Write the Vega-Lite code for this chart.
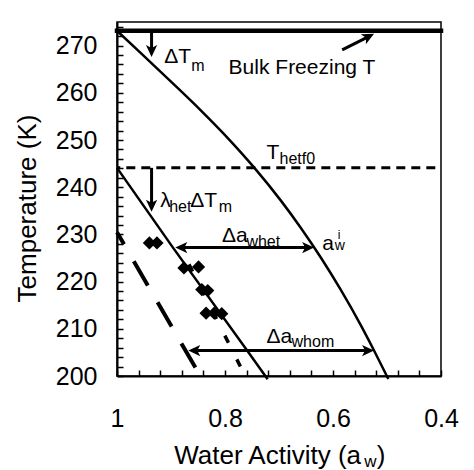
{
  "$schema": "https://vega.github.io/schema/vega-lite/v6.json",
  "width": 324,
  "height": 354,
  "autosize": {"type": "none"},
  "padding": {"left": 117, "top": 22, "right": 33, "bottom": 94},
  "background": "white",
  "config": {
    "view": {"stroke": "black", "strokeWidth": 1.5},
    "font": "Liberation Sans",
    "axis": {"grid": false}
  },
  "datasets": {
    "bulk": [{"aw": 0.4, "T": 273.15}, {"aw": 1.0, "T": 273.15}],
    "melt": [
      {"aw": 1.0, "T": 273.15}, {"aw": 0.9573, "T": 268.57}, {"aw": 0.9015, "T": 262.52},
      {"aw": 0.8458, "T": 256.38}, {"aw": 0.7901, "T": 249.82}, {"aw": 0.7455, "T": 244.09},
      {"aw": 0.6972, "T": 237.26}, {"aw": 0.6601, "T": 231.47}, {"aw": 0.6229, "T": 225.16},
      {"aw": 0.5858, "T": 218.29}, {"aw": 0.5486, "T": 210.79}, {"aw": 0.5245, "T": 205.52},
      {"aw": 0.5003, "T": 200.01}, {"aw": 0.4975, "T": 199.36}
    ],
    "het": [{"aw": 1.0, "T": 244.1}, {"aw": 0.897, "T": 227.3}, {"aw": 0.759, "T": 205.4}, {"aw": 0.721, "T": 199.3}],
    "hetf0": [{"aw": 0.4, "T": 244.1}, {"aw": 1.0, "T": 244.1}],
    "longdash": [{"aw": 0.841, "T": 199.05}, {"aw": 1.0, "T": 230.47}],
    "shortdash": [{"aw": 0.7594, "T": 199.26}, {"aw": 0.8815, "T": 227.0}],
    "arrows": [
      {"arrow": "dTm", "aw": 0.936, "T": 273.15}, {"arrow": "dTm", "aw": 0.936, "T": 268.7},
      {"arrow": "lam", "aw": 0.936, "T": 244.1}, {"arrow": "lam", "aw": 0.936, "T": 235.9},
      {"arrow": "whet", "aw": 0.8827, "T": 227.2}, {"arrow": "whet", "aw": 0.6443, "T": 227.2},
      {"arrow": "whom", "aw": 0.8587, "T": 205.4}, {"arrow": "whom", "aw": 0.5333, "T": 205.4},
      {"arrow": "bulk", "aw": 0.583, "T": 269.1}, {"arrow": "bulk", "aw": 0.5323, "T": 272.02}
    ],
    "heads": [
      {"head": "down", "aw": 0.936, "T": 267.6}, {"head": "down", "aw": 0.936, "T": 234.8},
      {"head": "left", "aw": 0.892, "T": 227.2}, {"head": "right", "aw": 0.635, "T": 227.2},
      {"head": "left", "aw": 0.868, "T": 205.4}, {"head": "right", "aw": 0.524, "T": 205.4},
      {"head": "ne", "aw": 0.524, "T": 272.5}
    ],
    "diamonds": [
      {"aw": 0.94, "T": 228.2}, {"aw": 0.926, "T": 228.2},
      {"aw": 0.876, "T": 222.9}, {"aw": 0.849, "T": 223.1},
      {"aw": 0.843, "T": 218.3}, {"aw": 0.832, "T": 218.1},
      {"aw": 0.835, "T": 213.3}, {"aw": 0.82, "T": 213.3}, {"aw": 0.806, "T": 213.2}
    ],
    "labels": [
      {"txt": "Bulk Freezing T", "kind": "main", "aw": 0.7933, "T": 263.97},
      {"txt": "ΔT", "kind": "main", "aw": 0.9127, "T": 266.24},
      {"txt": "m", "kind": "sub", "aw": 0.8625, "T": 264.7},
      {"txt": "T", "kind": "main", "aw": 0.7232, "T": 245.94},
      {"txt": "hetf0", "kind": "sub", "aw": 0.6991, "T": 244.98},
      {"txt": "λ", "kind": "main", "aw": 0.9201, "T": 235.75},
      {"txt": "het", "kind": "sub", "aw": 0.9034, "T": 234.8},
      {"txt": "ΔT", "kind": "main", "aw": 0.8644, "T": 235.75},
      {"txt": "m", "kind": "sub", "aw": 0.8118, "T": 234.8},
      {"txt": "Δa", "kind": "main", "aw": 0.8055, "T": 228.39},
      {"txt": "whet", "kind": "sub", "aw": 0.7604, "T": 227.37},
      {"txt": "a", "kind": "main", "aw": 0.6197, "T": 226.63},
      {"txt": "i", "kind": "sup", "aw": 0.5913, "T": 229.07},
      {"txt": "w", "kind": "sub2", "aw": 0.5969, "T": 226.63},
      {"txt": "Δa", "kind": "main", "aw": 0.7232, "T": 206.9},
      {"txt": "whom", "kind": "sub", "aw": 0.6768, "T": 206.05},
      {"txt": "Water Activity (a", "kind": "title", "aw": 0.8941, "T": 181.43},
      {"txt": "w", "kind": "titlesub", "aw": 0.5421, "T": 180.8},
      {"txt": ")", "kind": "title", "aw": 0.5189, "T": 181.43}
    ]
  },
  "encoding": {
    "x": {
      "field": "aw", "type": "quantitative",
      "scale": {"domain": [0.4, 1], "reverse": true, "nice": false, "zero": false},
      "axis": {
        "title": null,
        "values": [1, 0.96, 0.92, 0.88, 0.84, 0.8, 0.76, 0.72, 0.68, 0.64, 0.6, 0.56, 0.52, 0.48, 0.44, 0.4],
        "labelExpr": "abs(datum.value-1)<0.001 ? '1' : abs(datum.value-0.8)<0.001 ? '0.8' : abs(datum.value-0.6)<0.001 ? '0.6' : abs(datum.value-0.4)<0.001 ? '0.4' : ''",
        "tickSize": -6, "tickWidth": 1.5, "tickColor": "black",
        "domainColor": "black", "domainWidth": 2,
        "labelFont": "Liberation Sans", "labelFontSize": 25, "labelColor": "black",
        "labelPadding": 36, "labelOverlap": false, "labelFlush": false
      }
    },
    "y": {
      "field": "T", "type": "quantitative",
      "scale": {"domain": [200, 275], "nice": false, "zero": false},
      "axis": {
        "title": "Temperature (K)",
        "values": [200, 202, 204, 206, 208, 210, 212, 214, 216, 218, 220, 222, 224, 226, 228, 230, 232, 234, 236, 238, 240, 242, 244, 246, 248, 250, 252, 254, 256, 258, 260, 262, 264, 266, 268, 270, 272, 274],
        "labelExpr": "datum.value % 10 === 0 ? datum.label : ''",
        "tickSize": -6, "tickWidth": 1.5, "tickColor": "black",
        "domainColor": "black", "domainWidth": 2,
        "labelFont": "Liberation Sans", "labelFontSize": 25, "labelColor": "black",
        "labelPadding": 26, "labelOverlap": false, "labelFlush": false,
        "titleFont": "Liberation Sans", "titleFontSize": 26, "titleFontWeight": "normal", "titleColor": "black",
        "titleX": -90, "titleY": 186, "titleAngle": -90, "titleAlign": "center", "titleBaseline": "middle"
      }
    }
  },
  "layer": [
    {"data": {"name": "bulk"}, "mark": {"type": "line", "stroke": "black", "strokeWidth": 4.5, "strokeCap": "square", "clip": false}},
    {"data": {"name": "melt"}, "mark": {"type": "line", "stroke": "black", "strokeWidth": 2.5, "interpolate": "monotone", "clip": false}},
    {"data": {"name": "het"}, "mark": {"type": "line", "stroke": "black", "strokeWidth": 2.5, "clip": false}},
    {"data": {"name": "hetf0"}, "mark": {"type": "line", "stroke": "black", "strokeWidth": 3, "strokeDash": [9, 6], "strokeDashOffset": 5.7, "clip": false}},
    {"data": {"name": "longdash"}, "mark": {"type": "line", "stroke": "black", "strokeWidth": 4, "strokeDash": [28, 19.5], "strokeDashOffset": 14, "clip": false}},
    {"data": {"name": "shortdash"}, "mark": {"type": "line", "stroke": "black", "strokeWidth": 3.5, "strokeDash": [8, 18.6], "strokeDashOffset": 8.9, "clip": false}},
    {"data": {"name": "arrows"}, "mark": {"type": "line", "stroke": "black", "strokeWidth": 3, "clip": false},
     "encoding": {"detail": {"field": "arrow", "type": "nominal"}}},
    {"data": {"name": "heads"}, "mark": {"type": "point", "filled": true, "color": "black", "opacity": 1, "size": 225, "strokeWidth": 0, "clip": false},
     "encoding": {"shape": {"field": "head", "type": "nominal", "legend": null,
       "scale": {"domain": ["down", "left", "right", "ne"],
                 "range": ["M0,0L-0.75,-1.6L0,-1.2L0.75,-1.6Z", "M0,0L1.6,-0.75L1.2,0L1.6,0.75Z", "M0,0L-1.6,-0.75L-1.2,0L-1.6,0.75Z", "M0,0L-1.088,1.392L-1.07,0.542L-1.766,0.054Z"]}}}},
    {"data": {"name": "diamonds"}, "mark": {"type": "point", "shape": "diamond", "filled": true, "color": "black", "opacity": 1, "size": 175, "strokeWidth": 0}},
    {"data": {"name": "labels"}, "transform": [{"filter": "datum.kind === 'main'"}],
     "mark": {"type": "text", "align": "left", "baseline": "alphabetic", "font": "Liberation Sans", "fontSize": 21, "color": "black", "clip": false},
     "encoding": {"text": {"field": "txt", "type": "nominal"}}},
    {"data": {"name": "labels"}, "transform": [{"filter": "datum.kind === 'sub'"}],
     "mark": {"type": "text", "align": "left", "baseline": "alphabetic", "font": "Liberation Sans", "fontSize": 16, "color": "black", "clip": false},
     "encoding": {"text": {"field": "txt", "type": "nominal"}}},
    {"data": {"name": "labels"}, "transform": [{"filter": "datum.kind === 'sub2'"}],
     "mark": {"type": "text", "align": "left", "baseline": "alphabetic", "font": "Liberation Sans", "fontSize": 14, "color": "black", "clip": false},
     "encoding": {"text": {"field": "txt", "type": "nominal"}}},
    {"data": {"name": "labels"}, "transform": [{"filter": "datum.kind === 'sup'"}],
     "mark": {"type": "text", "align": "left", "baseline": "alphabetic", "font": "Liberation Sans", "fontSize": 12, "color": "black", "clip": false},
     "encoding": {"text": {"field": "txt", "type": "nominal"}}},
    {"data": {"name": "labels"}, "transform": [{"filter": "datum.kind === 'title'"}],
     "mark": {"type": "text", "align": "left", "baseline": "alphabetic", "font": "Liberation Sans", "fontSize": 26, "color": "black", "clip": false},
     "encoding": {"text": {"field": "txt", "type": "nominal"}}},
    {"data": {"name": "labels"}, "transform": [{"filter": "datum.kind === 'titlesub'"}],
     "mark": {"type": "text", "align": "left", "baseline": "alphabetic", "font": "Liberation Sans", "fontSize": 17, "color": "black", "clip": false},
     "encoding": {"text": {"field": "txt", "type": "nominal"}}}
  ]
}
